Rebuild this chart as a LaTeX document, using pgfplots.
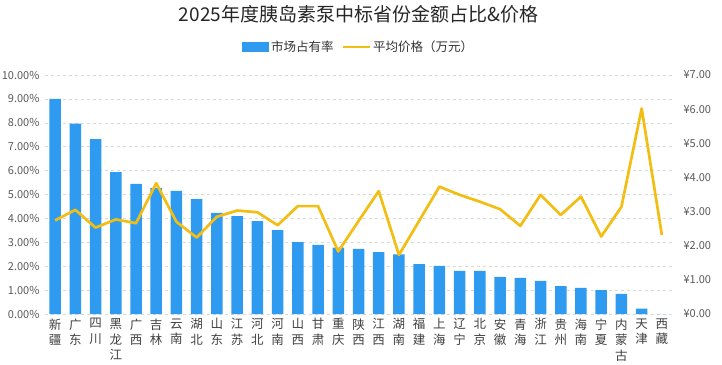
\documentclass[border=0pt]{standalone}
\usepackage{fontspec}
\setmainfont{Noto Sans CJK SC}
\usepackage{pgfplots}
\pgfplotsset{compat=1.18}
\definecolor{barblue}{HTML}{2E9BF0}
\definecolor{linegold}{HTML}{F2BE14}
\definecolor{txt}{HTML}{595959}
\definecolor{gridc}{HTML}{D9D9D9}
\begin{document}
\begin{tikzpicture}
\begin{axis}[
  scale only axis, width=627pt, height=239pt,
  xmin=-0.5, xmax=30.5, ymin=0, ymax=10,
  ytick={0,1,...,10},
  /pgf/number format/assume math mode=true,
  yticklabel={\pgfmathprintnumber[fixed,fixed zerofill,precision=2]{\tick}\%},
  yticklabel style={font=\fontsize{11}{12}\selectfont, color=txt, xshift=-2pt},
  xtick={0,1,...,30},
  xticklabels={{新\\疆},{广\\东},{四\\川},{黑\\龙\\江},{广\\西},{吉\\林},{云\\南},{湖\\北},{山\\东},{江\\苏},{河\\北},{河\\南},{山\\西},{甘\\肃},{重\\庆},{陕\\西},{江\\西},{湖\\南},{福\\建},{上\\海},{辽\\宁},{北\\京},{安\\徽},{青\\海},{浙\\江},{贵\\州},{海\\南},{宁\\夏},{内\\蒙\\古},{天\\津},{西\\藏}},
  xticklabel style={font=\fontsize{12.5}{15.5}\selectfont, align=center, anchor=north, color=black!75, yshift=-1pt},
  axis line style={draw=none},
  major tick length=0pt,
  ymajorgrids, grid style={dashed, color=gridc},
  title={2025年度胰岛素泵中标省份金额占比\&价格},
  title style={at={(0.5,1)}, anchor=center, yshift=55pt, font=\fontsize{19}{22}\selectfont, color=black!85},
  legend columns=2,
  legend style={draw=none, fill=none, at={(0.5,1)}, anchor=center, yshift=28pt, font=\fontsize{12.5}{14}\selectfont, text=black!80,
    /tikz/every even column/.append style={column sep=6pt}},
]
\addplot[ybar, bar width=11.5pt, fill=barblue, draw=none,
  legend image code/.code={\fill[barblue] (0pt,-5pt) rectangle (27pt,5pt);}]
  coordinates {(0,9.00) (1,7.97) (2,7.32) (3,5.94) (4,5.44) (5,5.28) (6,5.15) (7,4.81) (8,4.23) (9,4.10) (10,3.89) (11,3.51) (12,3.01) (13,2.89) (14,2.78) (15,2.72) (16,2.59) (17,2.50) (18,2.09) (19,2.01) (20,1.80) (21,1.80) (22,1.55) (23,1.51) (24,1.39) (25,1.17) (26,1.09) (27,1.00) (28,0.84) (29,0.22) (30,0.00)};
\addlegendentry{市场占有率}
\addlegendimage{legend image code/.code={\draw[linegold, line width=2.5pt] (0pt,0pt) -- (27pt,0pt);}}
\addlegendentry{平均价格（万元）}
\end{axis}
\begin{axis}[
  scale only axis, width=627pt, height=239pt,
  xmin=-0.5, xmax=30.5, ymin=0, ymax=7,
  axis y line*=right, axis x line=none,
  ytick={0,1,...,7},
  /pgf/number format/assume math mode=true,
  yticklabel={¥\pgfmathprintnumber[fixed,fixed zerofill,precision=2]{\tick}},
  yticklabel style={font=\fontsize{11}{12}\selectfont, color=txt, xshift=8pt},
  axis line style={draw=none},
  major tick length=0pt,
]
\addplot[linegold, line width=2.7pt, line join=round, mark=none]
  coordinates {(0,2.74) (1,3.05) (2,2.53) (3,2.77) (4,2.66) (5,3.83) (6,2.70) (7,2.24) (8,2.85) (9,3.03) (10,2.98) (11,2.60) (12,3.16) (13,3.16) (14,1.83) (15,2.72) (16,3.60) (17,1.73) (18,2.73) (19,3.73) (20,3.49) (21,3.29) (22,3.07) (23,2.58) (24,3.49) (25,2.90) (26,3.44) (27,2.27) (28,3.14) (29,6.02) (30,2.31)};
\end{axis}
\pgfresetboundingbox
\path (-45pt,-50pt) rectangle (677pt,314pt);
\end{tikzpicture}
\end{document}
